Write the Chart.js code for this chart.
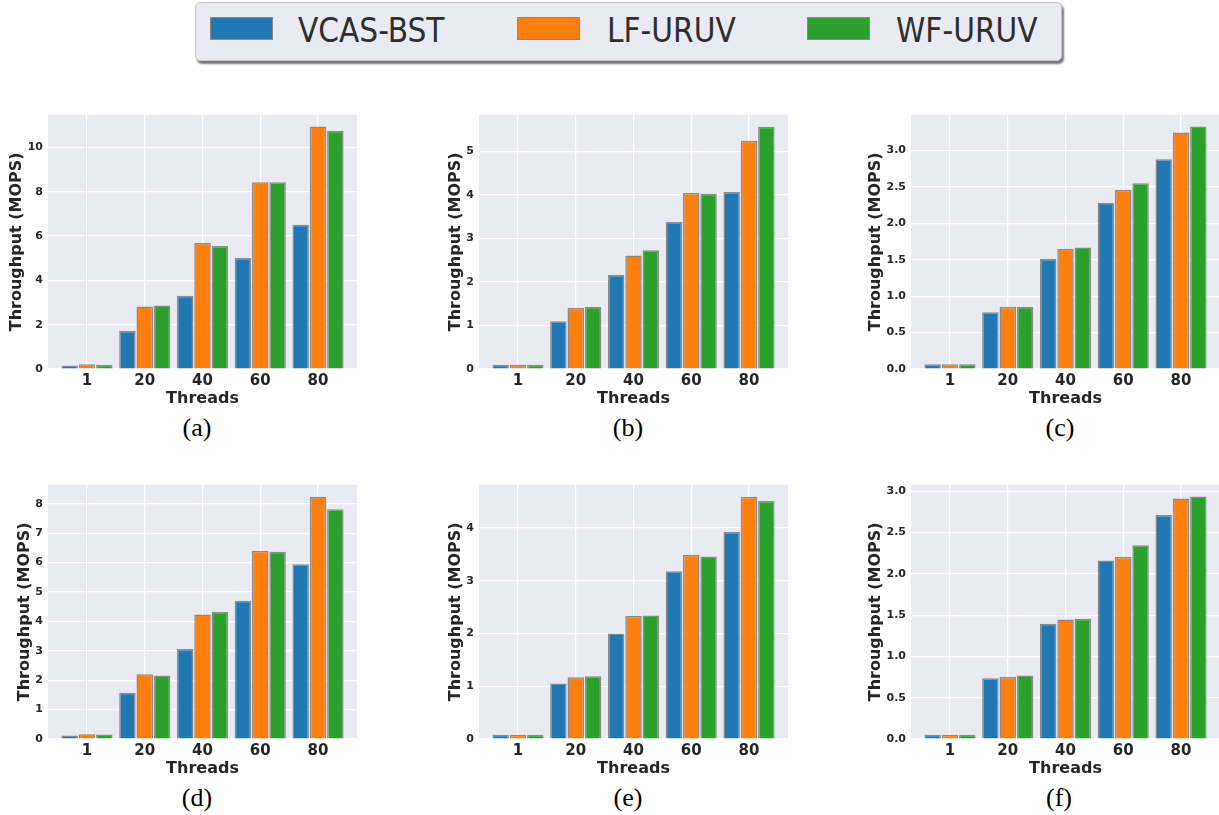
<!DOCTYPE html>
<html>
<head>
<meta charset="utf-8">
<script src="https://cdn.jsdelivr.net/npm/chart.js@4"></script>
<style>
    body { margin: 0; background: #fff; overflow: hidden; width: 1219px; height: 815px; position: relative; }
    canvas { position: absolute; }
    .cap { position: absolute; width: 60px; margin-left: -30px; text-align: center; font: 26px "Liberation Serif", serif; color: #000; }
    #legend { position: absolute; left: 195px; top: 2px; width: 865px; height: 57px; background: #eaeaf2;
        border: 1px solid #c4c4c8; border-radius: 5px; box-shadow: 2px 3px 2px #7a7a7a; }
    .sw { position: absolute; top: 14px; width: 61px; height: 21px; border: 1.5px solid #8a8a8a; }
    .lt { position: absolute; top: 8px; line-height: 33px; font: 33px "DejaVu Sans Condensed", "DejaVu Sans", sans-serif; color: #2e2e2e; white-space: nowrap; }
</style>
</head>
<body>
<div id="legend"></div>
<script>
"use strict"

const threads = ["1", "20", "40", "60", "80"]
const seriesNames = ["VCAS-BST", "LF-URUV", "WF-URUV"]
const colors = ["#1f77b4", "#ff7f0e", "#2ca02c"]

// panel (a)
const vcasA = [0.16, 1.72, 3.30, 5.01, 6.51]
const lfA = [0.21, 2.82, 5.69, 8.43, 10.94]
const wfA = [0.19, 2.87, 5.55, 8.43, 10.75]
// panel (b)
const vcasB = [0.10, 1.10, 2.16, 3.38, 4.07]
const lfB = [0.10, 1.40, 2.61, 4.05, 5.25]
const wfB = [0.10, 1.43, 2.73, 4.03, 5.57]
// panel (c)
const vcasC = [0.064, 0.78, 1.51, 2.28, 2.878]
const lfC = [0.064, 0.85, 1.65, 2.455, 3.245]
const wfC = [0.064, 0.853, 1.666, 2.547, 3.327]
// panel (d)
const vcasD = [0.12, 1.57, 3.06, 4.70, 5.94]
const lfD = [0.16, 2.20, 4.23, 6.39, 8.24]
const wfD = [0.15, 2.16, 4.33, 6.37, 7.81]
// panel (e)
const vcasE = [0.08, 1.05, 2.00, 3.18, 3.92]
const lfE = [0.08, 1.17, 2.33, 3.49, 4.59]
const wfE = [0.08, 1.19, 2.34, 3.46, 4.51]
// panel (f)
const vcasF = [0.052, 0.734, 1.396, 2.162, 2.712]
const lfF = [0.05, 0.75, 1.448, 2.202, 2.912]
const wfF = [0.052, 0.77, 1.456, 2.347, 2.936]

const captions = ["(a)", "(b)", "(c)", "(d)", "(e)", "(f)"]
const yMax = [11.48, 5.85, 3.49, 8.65, 4.82, 3.08]
const yStep = [2, 1, 0.5, 1, 1, 0.5]
const yDecimals = [0, 0, 1, 0, 0, 1]

const panels = [
    [vcasA, lfA, wfA], [vcasB, lfB, wfB], [vcasC, lfC, wfC],
    [vcasD, lfD, wfD], [vcasE, lfE, wfE], [vcasF, lfF, wfF],
]

// layout: canvas left/top, y-title offset, caption centre
const canvasLeft = [0, 431, 863, 0, 431, 863]
const canvasTop = [103, 103, 103, 473, 473, 473]
const titlePad = [7.4, 15.4, 3.4, 15.4, 15.4, 3.4]
const capX = [197, 628, 1060, 197, 628, 1059]
const capY = [413, 413, 413, 783, 783, 783]

const plotBg = {
    id: "plotBg",
    beforeDraw(chart) {
        const { ctx, chartArea: a } = chart
        ctx.save()
        ctx.fillStyle = "#eaeaf2"
        ctx.fillRect(a.left, a.top, a.right - a.left, a.bottom - a.top)
        ctx.restore()
    }
}

const tickColor = "#262626"

panels.forEach((series, p) => {
    const canvas = document.createElement("canvas")
    canvas.width = 367
    canvas.height = 307
    canvas.style.left = canvasLeft[p] + "px"
    canvas.style.top = canvasTop[p] + "px"
    document.body.appendChild(canvas)

    const datasets = series.map((values, k) => ({
        label: seriesNames[k],
        data: values.map((v, i) => ({ x: i, y: v })),
        backgroundColor: colors[k],
        borderColor: "#8a8a8a",
        borderWidth: 1.5,
        categoryPercentage: 0.9,
        barPercentage: 0.95,
    }))

    new Chart(canvas, {
        type: "bar",
        data: { datasets: datasets },
        options: {
            animation: false,
            responsive: false,
            maintainAspectRatio: false,
            layout: { padding: { top: 10, right: 10, left: 0, bottom: 0 } },
            plugins: { legend: { display: false }, tooltip: { enabled: false } },
            scales: {
                x: {
                    type: "linear",
                    min: -0.675,
                    max: 4.675,
                    bounds: "data",
                    offset: false,
                    grid: { color: "#ffffff", lineWidth: 1.2, drawTicks: false, offset: false },
                    border: { display: false },
                    ticks: {
                        padding: 3,
                        color: tickColor,
                        font: { family: "DejaVu Sans", size: 15, weight: "bold" },
                        callback: value => threads[value],
                    },
                    afterBuildTicks: axis => axis.ticks = threads.map((t, i) => ({ value: i })),
                    afterFit: axis => axis.height = 41,
                    title: {
                        display: true,
                        text: "Threads",
                        color: tickColor,
                        padding: { top: 0, bottom: 2 },
                        font: { family: "DejaVu Sans", size: 16, weight: "bold" },
                    },
                },
                y: {
                    min: 0,
                    max: yMax[p],
                    bounds: "data",
                    grid: { color: "#ffffff", lineWidth: 1.2, drawTicks: false },
                    border: { display: false },
                    ticks: {
                        stepSize: yStep[p],
                        includeBounds: false,
                        padding: 5,
                        color: tickColor,
                        font: { family: "DejaVu Sans", size: 11, weight: "bold" },
                        callback: value => value.toFixed(yDecimals[p]),
                    },
                    afterFit: axis => axis.width = 48,
                    title: {
                        display: true,
                        text: "Throughput (MOPS)",
                        color: tickColor,
                        padding: { top: titlePad[p], bottom: 0 },
                        font: { family: "DejaVu Sans", size: 16, weight: "bold" },
                    },
                },
            },
        },
        plugins: [plotBg],
    })

    const cap = document.createElement("div")
    cap.className = "cap"
    cap.textContent = captions[p]
    cap.style.left = capX[p] + "px"
    cap.style.top = capY[p] + "px"
    document.body.appendChild(cap)
})

// shared legend above the panels
const legend = document.getElementById("legend")
const swatchLeft = [14, 321, 611]
const textLeft = [102, 411, 700]
seriesNames.forEach((name, k) => {
    const sw = document.createElement("div")
    sw.className = "sw"
    sw.style.left = swatchLeft[k] + "px"
    sw.style.background = colors[k]
    legend.appendChild(sw)
    const lt = document.createElement("div")
    lt.className = "lt"
    lt.style.left = textLeft[k] + "px"
    lt.textContent = name
    legend.appendChild(lt)
})
</script>
</body>
</html>
